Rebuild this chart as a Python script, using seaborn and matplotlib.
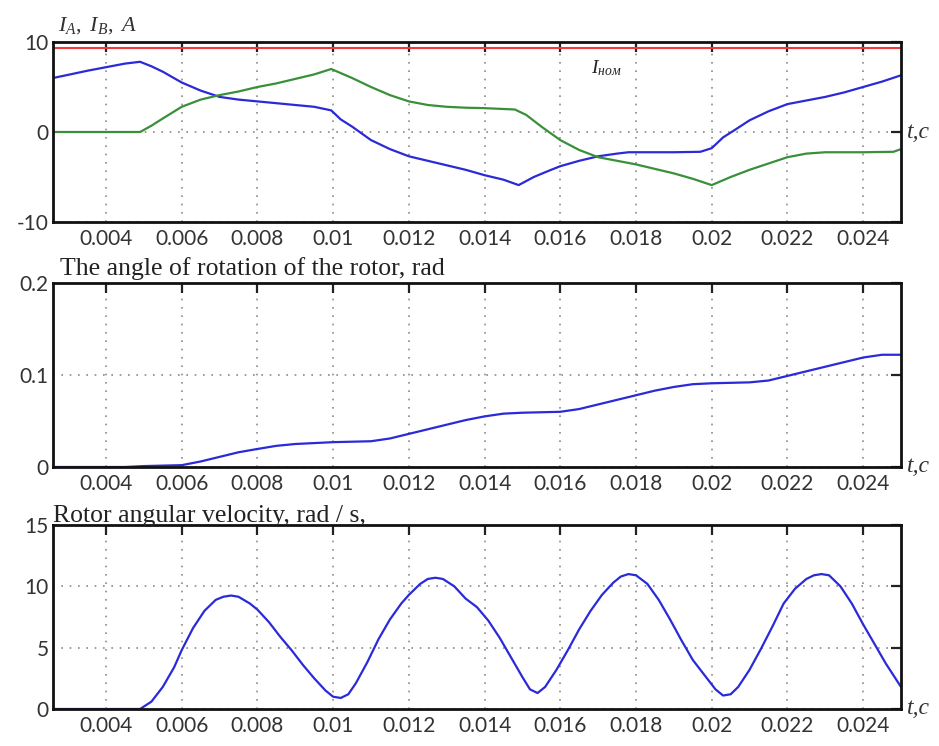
import numpy as np
import pandas as pd
import matplotlib
matplotlib.use("Agg")
import matplotlib.pyplot as plt
import matplotlib.transforms as mtransforms
import seaborn as sns

# ---------------- data ----------------
x_ticks = [0.004, 0.006, 0.008, 0.010, 0.012, 0.014, 0.016, 0.018, 0.020, 0.022, 0.024]
x_ticklabels = ["0.004", "0.006", "0.008", "0.01", "0.012", "0.014", "0.016",
                "0.018", "0.02", "0.022", "0.024"]

# Top panel: phase currents
t_ia = [0.0026, 0.003, 0.0035, 0.004, 0.0045, 0.0049, 0.0052, 0.0055, 0.006, 0.0065,
        0.007, 0.0075, 0.008, 0.0085, 0.009, 0.0095, 0.00995, 0.0102, 0.0105, 0.011,
        0.0115, 0.012, 0.0125, 0.013, 0.0135, 0.014, 0.0145, 0.0149, 0.0153, 0.0157,
        0.016, 0.0165, 0.017, 0.0175, 0.0178, 0.0185, 0.019, 0.0197, 0.02, 0.0203,
        0.0206, 0.021, 0.0215, 0.022, 0.0225, 0.023, 0.0235, 0.024, 0.0245, 0.025]
i_a = [6.0, 6.35, 6.8, 7.2, 7.6, 7.8, 7.3, 6.7, 5.5, 4.6,
       3.9, 3.6, 3.4, 3.2, 3.0, 2.8, 2.4, 1.4, 0.6, -0.9,
       -1.9, -2.7, -3.2, -3.7, -4.2, -4.8, -5.3, -5.9, -5.0, -4.3,
       -3.8, -3.2, -2.7, -2.4, -2.25, -2.25, -2.25, -2.2, -1.8, -0.6,
       0.2, 1.3, 2.3, 3.1, 3.5, 3.9, 4.4, 5.0, 5.6, 6.3]

t_ib = [0.0026, 0.0049, 0.0052, 0.0055, 0.006, 0.0065, 0.007, 0.0075, 0.008, 0.0085,
        0.009, 0.0095, 0.00995, 0.0105, 0.011, 0.0115, 0.012, 0.0125, 0.013, 0.0135,
        0.014, 0.0148, 0.0151, 0.0155, 0.016, 0.0165, 0.017, 0.0175, 0.018, 0.0185,
        0.019, 0.0195, 0.02, 0.0205, 0.021, 0.0215, 0.022, 0.0225, 0.023, 0.024,
        0.0248, 0.025]
i_b = [0.0, 0.0, 0.7, 1.5, 2.8, 3.6, 4.1, 4.5, 5.0, 5.4,
       5.9, 6.4, 7.0, 6.0, 5.0, 4.1, 3.4, 3.0, 2.8, 2.7,
       2.65, 2.5, 1.9, 0.6, -0.9, -2.0, -2.8, -3.2, -3.6, -4.1,
       -4.6, -5.2, -5.9, -5.0, -4.2, -3.5, -2.8, -2.4, -2.25, -2.25,
       -2.2, -1.9]

t_nom = [0.0026, 0.025]
i_nom = [9.3, 9.3]

# Middle panel: rotor angle
t_ang = [0.0026, 0.0045, 0.005, 0.0055, 0.006, 0.0065, 0.007, 0.0075, 0.008, 0.0085,
         0.009, 0.0095, 0.01, 0.0105, 0.011, 0.0115, 0.012, 0.0125, 0.013, 0.0135,
         0.014, 0.0145, 0.015, 0.0155, 0.016, 0.0165, 0.017, 0.0175, 0.018, 0.0185,
         0.019, 0.0195, 0.02, 0.0205, 0.021, 0.0215, 0.022, 0.0225, 0.023, 0.0235,
         0.024, 0.0245, 0.025]
angle = [0.0, 0.0, 0.001, 0.0015, 0.002, 0.006, 0.011, 0.016, 0.0196, 0.023,
         0.025, 0.026, 0.027, 0.0275, 0.028, 0.031, 0.036, 0.041, 0.046, 0.051,
         0.055, 0.058, 0.059, 0.0595, 0.060, 0.063, 0.068, 0.073, 0.078, 0.083,
         0.087, 0.090, 0.091, 0.0915, 0.092, 0.094, 0.099, 0.104, 0.109, 0.114,
         0.119, 0.122, 0.122]

# Bottom panel: rotor angular velocity
t_vel = [0.0026, 0.0049, 0.0052, 0.0055, 0.0058, 0.006, 0.0063, 0.0066, 0.0069, 0.0071,
         0.0073, 0.0075, 0.0078, 0.008, 0.0083, 0.0086, 0.0089, 0.0092, 0.0095, 0.0098,
         0.0100, 0.0102, 0.0104, 0.0106, 0.0109, 0.0112, 0.0115, 0.0118, 0.012, 0.0123,
         0.0125, 0.0127, 0.0129, 0.0132, 0.0135, 0.0138, 0.0141, 0.0144, 0.0147, 0.015,
         0.0152, 0.0154, 0.0156, 0.0159, 0.0162, 0.0165, 0.0168, 0.0171, 0.0174, 0.0176,
         0.0178, 0.018, 0.0183, 0.0186, 0.0189, 0.0192, 0.0195, 0.0198, 0.0201, 0.0203,
         0.0205, 0.0207, 0.021, 0.0213, 0.0216, 0.0219, 0.0222, 0.0225, 0.0227, 0.0229,
         0.0231, 0.0234, 0.0237, 0.024, 0.0243, 0.0246, 0.025]
velocity = [0.0, 0.0, 0.6, 1.8, 3.4, 4.8, 6.6, 8.0, 8.9, 9.15,
            9.25, 9.15, 8.6, 8.1, 7.1, 5.9, 4.8, 3.6, 2.5, 1.5,
            1.0, 0.9, 1.2, 2.1, 3.8, 5.7, 7.3, 8.6, 9.3, 10.2,
            10.6, 10.7, 10.6, 10.0, 9.0, 8.3, 7.2, 5.8, 4.2, 2.6,
            1.6, 1.3, 1.8, 3.2, 4.8, 6.5, 8.0, 9.3, 10.3, 10.8,
            11.0, 10.9, 10.2, 8.9, 7.3, 5.6, 4.0, 2.8, 1.6, 1.1,
            1.2, 1.8, 3.2, 4.9, 6.7, 8.6, 9.8, 10.6, 10.9, 11.0,
            10.9, 10.0, 8.6, 6.9, 5.3, 3.7, 1.8]

# ---------------- style ----------------
sns.set_theme(style="white")
plt.rcParams["font.family"] = ["Lato", "DejaVu Sans"]
plt.rcParams["mathtext.fontset"] = "custom"
plt.rcParams["mathtext.rm"] = "Liberation Serif"
plt.rcParams["mathtext.it"] = "Liberation Serif:italic"

BLUE = "#2a2ad8"
GREEN = "#3a8f3a"
RED = "#ee3a3a"
GRID = "#8a8a8a"
SERIF = ["Liberation Serif", "DejaVu Serif"]

fig = plt.figure(figsize=(9.39, 7.46), dpi=100)
W, H = 939.0, 746.0
left_px, right_px = 53, 901

def make_ax(top_px, bottom_px):
    return fig.add_axes([left_px / W, 1 - bottom_px / H,
                         (right_px - left_px) / W, (bottom_px - top_px) / H])

ax1 = make_ax(42, 222)
ax2 = make_ax(283, 467)
ax3 = make_ax(525, 709)

def style(ax, ylim, yticks, yticklabels):
    ax.set_xlim(0.0026, 0.025)
    ax.set_ylim(*ylim)
    ax.set_xticks(x_ticks)
    ax.set_xticklabels(x_ticklabels)
    ax.set_yticks(yticks)
    ax.set_yticklabels(yticklabels)
    ax.tick_params(direction="in", length=7, width=1.6, top=True, right=True,
                   labelsize=15, pad=5, colors="#222222", labelcolor="#333333")
    ax.tick_params(axis="y", pad=3)
    for sp in ax.spines.values():
        sp.set_linewidth(2.0)
        sp.set_color("#111111")
    ax.grid(True, linestyle=(0, (1, 4)), color=GRID, linewidth=1.2)
    ax.set_xlabel("")
    ax.set_ylabel("")
    tr = mtransforms.blended_transform_factory(ax.transAxes, ax.transData)
    ax.text(1.007, 0, "t,c", transform=tr, ha="left", va="center",
            fontsize=17, family=SERIF, style="italic", color="#333333")

# Top panel
sns.lineplot(x=t_nom, y=i_nom, ax=ax1, color=RED, lw=1.5)
sns.lineplot(x=t_ia, y=i_a, ax=ax1, color=BLUE, lw=1.6)
sns.lineplot(x=t_ib, y=i_b, ax=ax1, color=GREEN, lw=1.6)
style(ax1, (-10, 10), [-10, 0, 10], ["-10", "0", "10"])
ax1.text(0.006, 1.065, r"$I_{A},\ I_{B},\ A$", transform=ax1.transAxes,
         ha="left", va="baseline", fontsize=16, color="#333333")
ax1.text(0.0168, 6.5, r"$I_{ном}$", ha="left", va="baseline",
         fontsize=14, color="#222222")

# Middle panel
sns.lineplot(x=t_ang, y=angle, ax=ax2, color=BLUE, lw=1.6)
style(ax2, (0, 0.2), [0, 0.1, 0.2], ["0", "0.1", "0.2"])
ax2.text(0.008, 1.045, "The angle of rotation of the rotor, rad",
         transform=ax2.transAxes, ha="left", va="baseline",
         fontsize=18.5, family=SERIF, color="#222222")

# Bottom panel
sns.lineplot(x=t_vel, y=velocity, ax=ax3, color=BLUE, lw=1.6)
style(ax3, (0, 15), [0, 5, 10, 15], ["0", "5", "10", "15"])
ax3.text(0.0, 1.016, "Rotor angular velocity, rad / s,",
         transform=ax3.transAxes, ha="left", va="baseline",
         fontsize=18.5, family=SERIF, color="#222222")

fig.savefig("out.png", dpi=100)
